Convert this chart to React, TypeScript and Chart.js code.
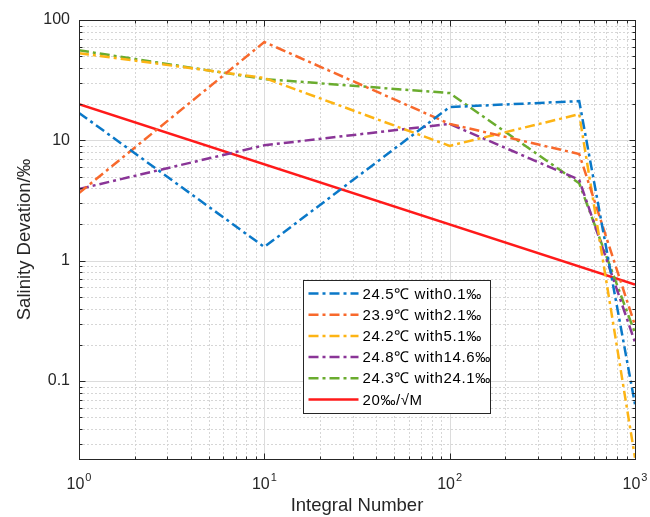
import { useEffect, useRef } from 'react';
import { Chart, registerables } from 'chart.js';

Chart.register(...registerables);

const FONT = '"Liberation Sans", Arial, Helvetica, sans-serif';

// Data
const integralNumbers = [1, 10, 100, 500, 1000];
const series01 = [16.9, 1.3, 18.9, 21.2, 0.064];   // 24.5℃ with0.1‰
const series21 = [3.65, 65.6, 13.7, 7.7, 0.29];    // 23.9℃ with2.1‰
const series51 = [53, 33, 9.0, 16.5, 0.023];       // 24.2℃ with5.1‰
const series146 = [3.94, 9.1, 13.7, 4.7, 0.21];    // 24.8℃ with14.6‰
const series241 = [56, 32.3, 24.7, 4.4, 0.25];     // 24.3℃ with24.1‰
const refM = [1, 1000];
const refValues = [20, 0.632];                      // 20‰/√M

const seriesLabels = [
  '24.5℃ with0.1‰',
  '23.9℃ with2.1‰',
  '24.2℃ with5.1‰',
  '24.8℃ with14.6‰',
  '24.3℃ with24.1‰',
  '20‰/√M',
];
const seriesColors = ['#0a78c8', '#f8692c', '#fdb414', '#8a3597', '#6aac2e', '#ff1a1a'];

const xTickValues = [1, 10, 100, 1000];
const xTickBase = '10';
const xTickExponents = ['0', '1', '2', '3'];
const yTickValues = [0.1, 1, 10, 100];
const yTickLabels = ['0.1', '1', '10', '100'];

const X_MIN = 1;
const X_MAX = 1000;
const Y_MIN = 0.0225;
const Y_MAX = 100;

const DASH = [10, 4, 3, 4];

function minorValues(min: number, max: number): number[] {
  const out: number[] = [];
  const d0 = Math.floor(Math.log10(min));
  const d1 = Math.ceil(Math.log10(max));
  for (let d = d0; d <= d1; d++) {
    for (let m = 1; m <= 9; m++) {
      const v = m * Math.pow(10, d);
      if (v >= min * 0.9999 && v <= max * 1.0001) out.push(v);
    }
  }
  return out;
}

const matlabAxes = {
  id: 'matlabAxes',
  beforeDatasetsDraw(chart: any) {
    const { ctx, chartArea, scales } = chart;
    const { left, right, top, bottom } = chartArea;
    const x = scales.x;
    const y = scales.y;
    ctx.save();
    ctx.lineWidth = 1;
    // minor dotted grid
    ctx.strokeStyle = '#d6d6d6';
    ctx.setLineDash([2, 2]);
    for (const v of minorValues(X_MIN, X_MAX)) {
      if (xTickValues.includes(v)) continue;
      const px = Math.round(x.getPixelForValue(v)) + 0.5;
      ctx.beginPath();
      ctx.moveTo(px, top);
      ctx.lineTo(px, bottom);
      ctx.stroke();
    }
    for (const v of minorValues(Y_MIN, Y_MAX)) {
      if (yTickValues.some((t) => Math.abs(t - v) < 1e-9)) continue;
      const py = Math.round(y.getPixelForValue(v)) + 0.5;
      ctx.beginPath();
      ctx.moveTo(left, py);
      ctx.lineTo(right, py);
      ctx.stroke();
    }
    // major solid grid
    ctx.setLineDash([]);
    ctx.strokeStyle = '#dcdcdc';
    for (const v of xTickValues) {
      const px = Math.round(x.getPixelForValue(v)) + 0.5;
      ctx.beginPath();
      ctx.moveTo(px, top);
      ctx.lineTo(px, bottom);
      ctx.stroke();
    }
    for (const v of yTickValues) {
      const py = Math.round(y.getPixelForValue(v)) + 0.5;
      ctx.beginPath();
      ctx.moveTo(left, py);
      ctx.lineTo(right, py);
      ctx.stroke();
    }
    ctx.restore();
  },
  afterDatasetsDraw(chart: any) {
    const { ctx, chartArea, scales } = chart;
    const { left, right, top, bottom } = chartArea;
    const x = scales.x;
    const y = scales.y;
    ctx.save();
    ctx.strokeStyle = '#262626';
    ctx.lineWidth = 1;
    ctx.setLineDash([]);
    const L = Math.round(left) + 0.5;
    const R = Math.round(right) + 0.5;
    const T = Math.round(top) + 0.5;
    const B = Math.round(bottom) + 0.5;
    ctx.strokeRect(L, T, R - L, B - T);
    // inward tick marks
    ctx.beginPath();
    for (const v of minorValues(X_MIN, X_MAX)) {
      const major = xTickValues.includes(v);
      const len = major ? 6 : 3;
      const px = Math.round(x.getPixelForValue(v)) + 0.5;
      ctx.moveTo(px, B);
      ctx.lineTo(px, B - len);
      ctx.moveTo(px, T);
      ctx.lineTo(px, T + len);
    }
    for (const v of minorValues(Y_MIN, Y_MAX)) {
      const major = yTickValues.some((t) => Math.abs(t - v) < 1e-9);
      const len = major ? 6 : 3;
      const py = Math.round(y.getPixelForValue(v)) + 0.5;
      ctx.moveTo(L, py);
      ctx.lineTo(L + len, py);
      ctx.moveTo(R, py);
      ctx.lineTo(R - len, py);
    }
    ctx.stroke();

    // x tick labels with superscript exponents
    ctx.fillStyle = '#262626';
    ctx.textBaseline = 'alphabetic';
    ctx.textAlign = 'left';
    xTickValues.forEach((v, i) => {
      const px = x.getPixelForValue(v);
      ctx.font = `16px ${FONT}`;
      const wBase = ctx.measureText(xTickBase).width;
      ctx.font = `11px ${FONT}`;
      const wExp = ctx.measureText(xTickExponents[i]).width;
      const start = px - (wBase + wExp + 1) / 2;
      ctx.font = `16px ${FONT}`;
      ctx.fillText(xTickBase, start, B + 29);
      ctx.font = `11px ${FONT}`;
      ctx.fillText(xTickExponents[i], start + wBase + 1, B + 21);
    });

    // legend
    const bx = 303.5;
    const by = 280.5;
    const bw = 187;
    const bh = 133;
    ctx.fillStyle = '#ffffff';
    ctx.fillRect(bx, by, bw, bh);
    ctx.strokeStyle = '#262626';
    ctx.lineWidth = 1;
    ctx.strokeRect(bx, by, bw, bh);
    chart.data.datasets.forEach((ds: any, i: number) => {
      const ry = by + 13 + i * 21.2;
      ctx.save();
      ctx.strokeStyle = ds.borderColor;
      ctx.lineWidth = ds.borderWidth;
      ctx.setLineDash(ds.borderDash || []);
      ctx.beginPath();
      ctx.moveTo(bx + 5, ry);
      ctx.lineTo(bx + 55, ry);
      ctx.stroke();
      ctx.restore();
      ctx.save();
      ctx.fillStyle = '#000000';
      ctx.font = `15px ${FONT}`;
      try { (ctx as any).letterSpacing = '0.6px'; } catch (e) { /* ignore */ }
      ctx.textBaseline = 'middle';
      ctx.textAlign = 'left';
      ctx.fillText(ds.label, bx + 59, ry + 1);
      ctx.restore();
    });
    ctx.restore();
  },
};

function pts(xs: number[], ys: number[]) {
  return xs.map((xv, i) => ({ x: xv, y: ys[i] }));
}

export default function App() {
  const ref = useRef<HTMLCanvasElement | null>(null);
  useEffect(() => {
    if (!ref.current) return;
    const allSeries = [series01, series21, series51, series146, series241];
    const datasets: any[] = allSeries.map((s, i) => ({
      label: seriesLabels[i],
      data: pts(integralNumbers, s),
      borderColor: seriesColors[i],
      backgroundColor: seriesColors[i],
      borderWidth: 2.5,
      borderDash: DASH,
      pointRadius: 0,
      fill: false,
      tension: 0,
    }));
    datasets.push({
      label: seriesLabels[5],
      data: pts(refM, refValues),
      borderColor: seriesColors[5],
      backgroundColor: seriesColors[5],
      borderWidth: 2.5,
      borderDash: [],
      pointRadius: 0,
      fill: false,
      tension: 0,
    });
    const chart = new Chart(ref.current, {
      type: 'line',
      data: { datasets },
      plugins: [matlabAxes],
      options: {
        animation: false,
        responsive: false,
        maintainAspectRatio: false,
        layout: { padding: { top: 20, right: 15, left: 0, bottom: 0 } },
        plugins: { legend: { display: false }, tooltip: { enabled: false } },
        scales: {
          x: {
            type: 'logarithmic',
            min: X_MIN,
            max: X_MAX,
            grid: { display: false, drawTicks: false },
            border: { display: false },
            afterBuildTicks: (s: any) => {
              s.ticks = xTickValues.map((v) => ({ value: v }));
            },
            ticks: { display: false },
            afterFit: (s: any) => {
              s.height = 58;
            },
            title: {
              display: true,
              text: 'Integral Number',
              color: '#262626',
              font: { size: 18.5, family: FONT },
              padding: { top: 0, bottom: 0 },
            },
          },
          y: {
            type: 'logarithmic',
            min: Y_MIN,
            max: Y_MAX,
            grid: { display: false, drawTicks: false },
            border: { display: false },
            afterBuildTicks: (s: any) => {
              s.ticks = yTickValues.map((v) => ({ value: v }));
            },
            ticks: {
              padding: 9,
              color: '#262626',
              font: { size: 16, family: FONT },
              callback: (_v: any, i: number) => yTickLabels[i],
            },
            afterFit: (s: any) => {
              s.width = 79;
            },
            title: {
              display: true,
              text: 'Salinity Devation/‰',
              color: '#262626',
              font: { size: 18.5, family: FONT },
              padding: { top: 14, bottom: 0 },
            },
          },
        },
      } as any,
    });
    return () => chart.destroy();
  }, []);
  return (
    <div style={{ position: 'absolute', left: 0, top: 0, width: 650, height: 517, background: '#fff' }}>
      <canvas ref={ref} width={650} height={517} style={{ width: 650, height: 517, display: 'block' }} />
    </div>
  );
}
